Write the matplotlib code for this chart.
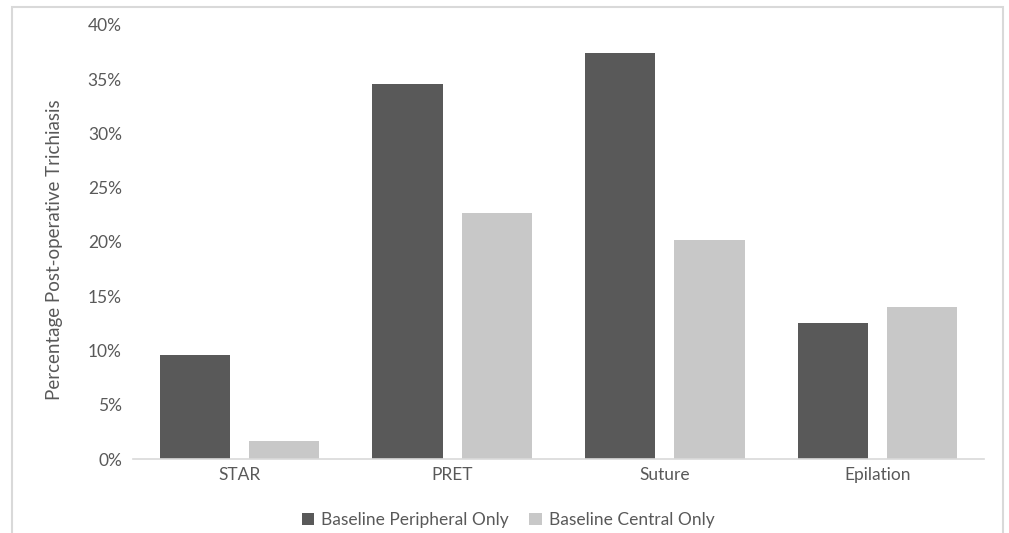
import numpy as np
import matplotlib.pyplot as plt
from matplotlib.patches import Rectangle
from matplotlib.ticker import PercentFormatter

plt.rcParams['font.family'] = ['Lato', 'DejaVu Sans']

categories = ['STAR', 'PRET', 'Suture', 'Epilation']
peripheral = [9.6, 34.6, 37.4, 12.5]
central = [1.7, 22.7, 20.2, 14.0]
series_names = ['Baseline Peripheral Only', 'Baseline Central Only']

W, H = 1009, 533
fig = plt.figure(figsize=(W / 100, H / 100), dpi=100)
ax = fig.add_axes([133 / W, 1 - 459 / H, (984 - 133) / W, (459 - 25) / H])

x = np.arange(len(categories))
bw = 0.33
ax.bar(x - 0.21, peripheral, bw, color='#595959', label=series_names[0])
ax.bar(x + 0.21, central, bw, color='#c8c8c8', label=series_names[1])

ax.set_xlim(-0.5, len(categories) - 0.5)
ax.set_ylim(0, 40)
ax.set_yticks(np.arange(0, 41, 5))
ax.yaxis.set_major_formatter(PercentFormatter(decimals=0))
ax.set_xticks(x)
ax.set_xticklabels(categories)
ax.tick_params(length=0, labelsize=12.5, labelcolor='#595959')
ax.tick_params(axis='y', pad=8)
ax.tick_params(axis='x', pad=6)

for s in ['top', 'right', 'left']:
    ax.spines[s].set_visible(False)
ax.spines['bottom'].set_color('#d9d9d9')
ax.spines['bottom'].set_linewidth(1.2)

fig.text(55 / W, 1 - 250 / H, 'Percentage Post-operative Trichiasis', rotation=90,
         ha='center', va='center', fontsize=13.5, color='#595959')

fig.legend(loc='center', bbox_to_anchor=(508 / W, 1 - 520 / H), ncol=2, frameon=False,
           fontsize=12.5, labelcolor='#595959', handlelength=0.7, handleheight=0.7,
           handletextpad=0.4, columnspacing=1.2)

# outer chart border (bottom edge off-image)
fig.patches.append(Rectangle((12 / W, -0.05), (1003 - 12) / W, 1.05 - 7 / H,
                             transform=fig.transFigure, fill=False,
                             edgecolor='#d9d9d9', linewidth=1.5))

fig.savefig('out.png', dpi=100)
